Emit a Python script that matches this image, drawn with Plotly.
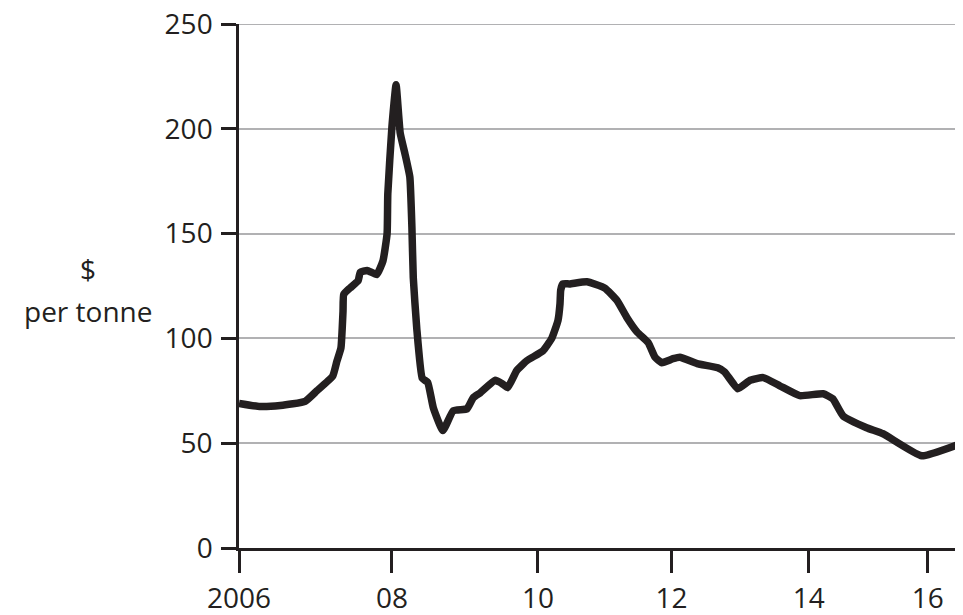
import plotly.graph_objects as go

# Price series ($ per tonne); x in chart-year units
years = [2006.0, 2006.30, 2006.60, 2006.96, 2007.13, 2007.36, 2007.42, 2007.48, 2007.51, 2007.52,
         2007.61, 2007.73, 2007.76, 2007.86, 2008.00, 2008.09, 2008.15, 2008.16, 2008.22, 2008.28,
         2008.34, 2008.41, 2008.48, 2008.51, 2008.53, 2008.58, 2008.66, 2008.74, 2008.82, 2008.96,
         2009.11, 2009.31, 2009.40, 2009.50, 2009.72, 2009.82, 2009.90, 2010.03, 2010.18, 2010.41,
         2010.54, 2010.63, 2010.66, 2010.67, 2010.70, 2010.80, 2011.05, 2011.31, 2011.49, 2011.63,
         2011.78, 2011.94, 2012.04, 2012.14, 2012.30, 2012.40, 2012.65, 2012.95, 2013.05, 2013.24,
         2013.42, 2013.61, 2013.85, 2014.14, 2014.48, 2014.62, 2014.77, 2015.11, 2015.35, 2015.91,
         2016.51]
prices = [69, 67.5, 68, 70, 75, 82, 89, 95.5, 113, 121,
          124, 127.6, 131.5, 132.4, 130.5, 137, 150, 169, 201, 221,
          198, 188, 177, 153, 129, 105, 81, 79, 67, 56,
          65.5, 66.4, 71.7, 74, 80, 78.4, 76.5, 84.6, 89.4, 94,
          100, 108.5, 116.6, 123, 126, 126, 127, 124, 118, 110,
          103, 98, 91, 88.4, 90.3, 91, 88, 86, 84, 76,
          80, 81.3, 77.4, 72.7, 73.6, 71.2, 63, 57.4, 54.5, 44,
          50.2]

tick_vals = [2006, 2008.22, 2010.34, 2012.28, 2014.27, 2016]
tick_text = ["2006", "08", "10", "12", "14", "16"]
y_ticks = [0, 50, 100, 150, 200, 250]

INK = "#231f20"
GRID = "#b1b1b3"
FONT = "Open Sans"

fig = go.Figure()
fig.add_trace(go.Scatter(x=years, y=prices, mode="lines",
                         line=dict(color=INK, width=7.5, shape="spline", smoothing=0.4),
                         hoverinfo="skip"))

fig.update_layout(
    width=955, height=607,
    margin=dict(l=231, r=0, t=16, b=67, autoexpand=False),
    paper_bgcolor="white", plot_bgcolor="white",
    showlegend=False,
    font=dict(family=FONT, size=28, color=INK),
    xaxis=dict(range=[2006, 2016.51], tickvals=tick_vals, ticktext=tick_text,
               automargin=False,
               showgrid=False, zeroline=False, showline=True, linecolor=INK, linewidth=2.5,
               ticks="outside", ticklen=22, tickwidth=2.5, tickcolor=INK,
               ticklabelstandoff=2,
               tickfont=dict(family=FONT, size=28, color=INK)),
    yaxis=dict(range=[0, 250], tickvals=y_ticks,
               automargin=False,
               showgrid=True, gridcolor=GRID, gridwidth=2,
               zeroline=False, showline=True, linecolor=INK, linewidth=2.5,
               ticks="outside", ticklen=15, tickwidth=2.5, tickcolor=INK,
               ticklabelstandoff=3, ticklabeloverflow="allow",
               tickfont=dict(family=FONT, size=28, color=INK)),
    shapes=[dict(type="line", xref="paper", x0=0, x1=1, yref="y", y0=250, y1=250,
                 line=dict(color=GRID, width=2), layer="below")],
    annotations=[
        dict(text="$", xref="paper", yref="paper", x=-0.209, y=0.532,
             showarrow=False, xanchor="center", yanchor="middle",
             font=dict(family=FONT, size=28, color=INK)),
        dict(text="per tonne", xref="paper", yref="paper", x=-0.209, y=0.452,
             showarrow=False, xanchor="center", yanchor="middle",
             font=dict(family=FONT, size=28, color=INK)),
    ],
)

fig.write_html("out.html")
